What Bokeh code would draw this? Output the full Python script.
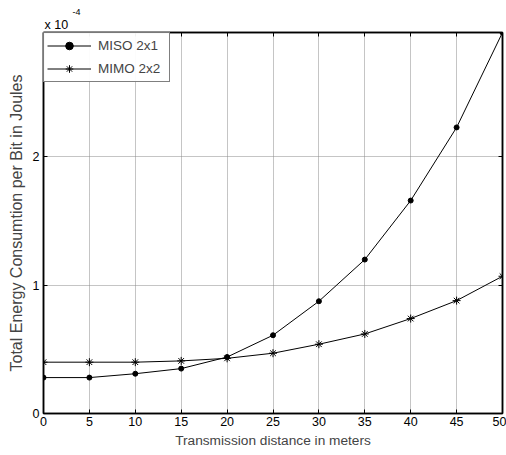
from bokeh.plotting import figure
from bokeh.models import Range1d, FixedTicker, Title, LinearAxis, Legend, LegendItem
from bokeh.embed import file_html
from bokeh.resources import INLINE

distance = [0, 5, 10, 15, 20, 25, 30, 35, 40, 45, 50]
miso_2x1 = [0.28, 0.28, 0.31, 0.35, 0.44, 0.61, 0.875, 1.20, 1.66, 2.23, 2.97]  # x 1e-4 J
mimo_2x2 = [0.40, 0.40, 0.40, 0.41, 0.43, 0.47, 0.54, 0.62, 0.74, 0.88, 1.07]  # x 1e-4 J
x_ticks = [0, 5, 10, 15, 20, 25, 30, 35, 40, 45, 50]
y_ticks = [0, 1, 2]

FONT = "Liberation Sans"

p = figure(width=506, height=455, output_backend="svg", toolbar_location=None, title=None,
           x_range=Range1d(0, 50), y_range=Range1d(0, 2.97),
           min_border_left=43, min_border_right=4, min_border_top=32, min_border_bottom=42)
p.outline_line_color = "black"
p.outline_line_width = 1.5
p.background_fill_color = "white"

p.add_layout(LinearAxis(), "above")
p.add_layout(LinearAxis(), "right")

for ax in p.axis:
    ax.major_tick_in = 4
    ax.major_tick_out = 0
    ax.minor_tick_line_color = None
    ax.axis_line_width = 1.5
    ax.major_label_text_font = FONT
    ax.major_label_text_font_size = "12.5px"
    ax.major_label_text_color = "black"
    ax.axis_label_text_font = FONT
    ax.axis_label_text_font_style = "normal"
for ax in p.xaxis:
    ax.ticker = FixedTicker(ticks=x_ticks)
for ax in p.yaxis:
    ax.ticker = FixedTicker(ticks=y_ticks)
p.above[0].major_label_overrides = {t: "" for t in x_ticks}
p.right[0].major_label_overrides = {t: "" for t in y_ticks}
p.above[0].major_label_standoff = 0
p.right[0].major_label_standoff = 0
p.below[0].major_label_standoff = 3
p.left[0].major_label_standoff = 4
p.below[0].axis_label = "Transmission distance in meters"
p.below[0].axis_label_text_font_size = "13.7px"
p.below[0].axis_label_standoff = 4
p.left[0].axis_label = "Total Energy Consumtion per Bit in Joules"
p.left[0].axis_label_text_font_size = "16px"
p.left[0].axis_label_standoff = 5

p.xgrid.ticker = FixedTicker(ticks=x_ticks)
p.ygrid.ticker = FixedTicker(ticks=y_ticks)
for g in (p.xgrid[0], p.ygrid[0]):
    g.grid_line_color = "#8a8a8a"
    g.grid_line_dash = "1 1"
    g.grid_line_width = 1

l1 = p.line(distance, miso_2x1, line_color="black", line_width=1)
m1 = p.scatter(distance, miso_2x1, marker="circle", size=5, fill_color="black", line_color="black")
l2 = p.line(distance, mimo_2x2, line_color="black", line_width=1)
m2 = p.scatter(distance, mimo_2x2, marker="asterisk", size=8, line_color="black")

legend = Legend(items=[LegendItem(label="MISO 2x1", renderers=[l1, m1]),
                       LegendItem(label="MIMO 2x2", renderers=[l2, m2])],
                location="top_left", margin=0, padding=3, spacing=4,
                glyph_width=44, glyph_height=19, label_standoff=7, label_height=19,
                label_width=68,
                border_line_color="black", border_line_width=1,
                label_text_font=FONT, label_text_font_size="13.5px")
p.add_layout(legend)

p.add_layout(Title(text="x 10", align="left", offset=1, standoff=2,
                   text_font=FONT, text_font_size="12.5px", text_font_style="normal",
                   text_color="black", text_line_height=1.0), "above")
p.add_layout(Title(text="-4", align="left", offset=29, standoff=0,
                   text_font=FONT, text_font_size="9px", text_font_style="normal",
                   text_color="black", text_line_height=1.0), "above")

open("out.html", "w").write(file_html(p, INLINE))
